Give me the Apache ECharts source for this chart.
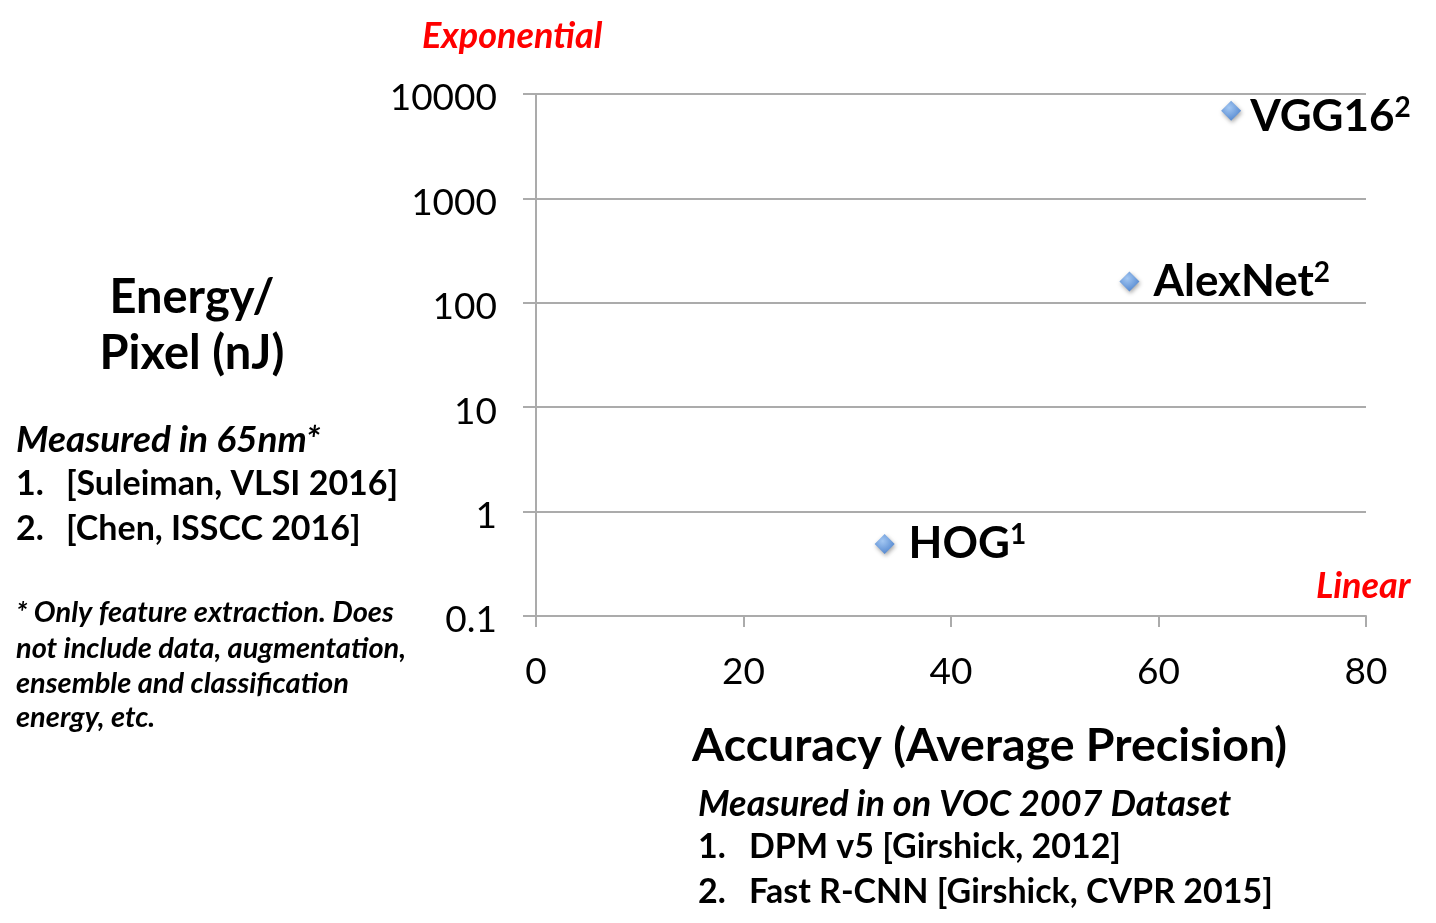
<!DOCTYPE html>
<html><head><meta charset="utf-8">
<script src="https://cdn.jsdelivr.net/npm/echarts@6/dist/echarts.min.js"></script>
<style>html,body{margin:0;padding:0;background:#fff}#c{width:1436px;height:923px}</style>
</head><body><div id="c"></div>
<script>
const names = ['VGG16', 'AlexNet', 'HOG'];
const refs = ['2', '2', '1'];
const accuracy = [67.0, 57.2, 33.6];
const energy = [6900, 160, 0.49];
const yTickLabels = ['0.1', '1', '10', '100', '1000', '10000'];
const xTickLabels = ['0', '20', '40', '60', '80'];

const F = 'Lato, "Open Sans", sans-serif';
const chart = echarts.init(document.getElementById('c'));
const gridColor = '#ababab';

function txt(x, y, text, font, fill, extra) {
  return Object.assign({ type: 'text', x: x, y: y,
    style: Object.assign({ text: text, font: font + ' ' + F, fill: fill || '#000', verticalAlign: 'middle', align: 'left' }, extra || {}) });
}

chart.setOption({
  backgroundColor: '#fff',
  animation: false,
  grid: { left: 536, right: 70, top: 94, bottom: 307 },
  xAxis: {
    type: 'value', min: 0, max: 80, interval: 20,
    axisLine: { show: true, lineStyle: { color: gridColor, width: 2 } },
    axisTick: { show: true, length: 11, lineStyle: { color: gridColor, width: 2 } },
    splitLine: { show: false },
    axisLabel: { fontFamily: F, fontSize: 37, color: '#000', margin: 38,
      formatter: (v, i) => xTickLabels[i] }
  },
  yAxis: {
    type: 'log', logBase: 10, min: 0.1, max: 10000,
    axisLine: { show: true, lineStyle: { color: gridColor, width: 2 } },
    axisTick: { show: true, length: 13, lineStyle: { color: gridColor, width: 2 } },
    splitLine: { show: true, lineStyle: { color: gridColor, width: 2 } },
    axisLabel: { fontFamily: F, fontSize: 37, color: '#000', margin: 39,
      formatter: (v, i) => '{v|' + yTickLabels[i] + '}',
      rich: { v: { fontFamily: F, fontSize: 37, color: '#000', padding: [9, 0, 0, 0] } } }
  },
  series: [{
    type: 'scatter',
    symbol: 'diamond',
    symbolSize: 20,
    data: accuracy.map((a, i) => {
      const d = { value: [a, energy[i]] };
      if (i === 0) d.label = { offset: [-5, 6] };
      return d;
    }),
    itemStyle: {
      opacity: 1,
      color: new echarts.graphic.RadialGradient(0.4, 0.35, 0.75, [
        { offset: 0, color: '#a3c7f2' }, { offset: 1, color: '#4a80cc' }]),
      shadowBlur: 4, shadowColor: 'rgba(0,0,0,0.35)', shadowOffsetX: 1, shadowOffsetY: 2
    },
    label: {
      show: true, position: 'right', distance: 14, color: '#000', opacity: 1, fontWeight: 'bold', fontFamily: F,
      formatter: p => '{a|' + names[p.dataIndex] + '}{s|' + refs[p.dataIndex] + '}',
      rich: {
        a: { fontFamily: F, fontWeight: 'bold', fontSize: 44, color: '#000' },
        s: { fontFamily: F, fontWeight: 'bold', fontSize: 28, color: '#000', padding: [0, 0, 18, 0] }
      }
    }
  }],
  graphic: [
    txt(422, 36, 'Exponential', 'italic bold 36px', '#ff0000'),
    txt(1316, 586, 'Linear', 'italic bold 36px', '#ff0000'),
    txt(192, 298, 'Energy/', 'bold 47px', '#000', { align: 'center' }),
    txt(192, 354, 'Pixel (nJ)', 'bold 47px', '#000', { align: 'center' }),
    txt(16, 440, 'Measured in 65nm*', 'italic bold 37px'),
    txt(16, 484, '1.', 'bold 34px'),
    txt(66, 484, '[Suleiman, VLSI 2016]', 'bold 34px'),
    txt(16, 529, '2.', 'bold 34px'),
    txt(66, 529, '[Chen, ISSCC 2016]', 'bold 34px'),
    txt(16, 613, '* Only feature extraction. Does', 'italic bold 29px'),
    txt(16, 649, 'not include data, augmentation,', 'italic bold 29px'),
    txt(16, 684, 'ensemble and classification', 'italic bold 29px'),
    txt(16, 718, 'energy, etc.', 'italic bold 29px'),
    txt(692, 746, 'Accuracy (Average Precision)', 'bold 46.5px'),
    txt(698, 804, 'Measured in on VOC 2007 Dataset', 'italic bold 36px'),
    txt(698, 847, '1.', 'bold 34px'),
    txt(749, 847, 'DPM v5 [Girshick, 2012]', 'bold 34px'),
    txt(698, 892, '2.', 'bold 34px'),
    txt(749, 892, 'Fast R-CNN [Girshick, CVPR 2015]', 'bold 34px')
  ]
});
</script></body></html>
